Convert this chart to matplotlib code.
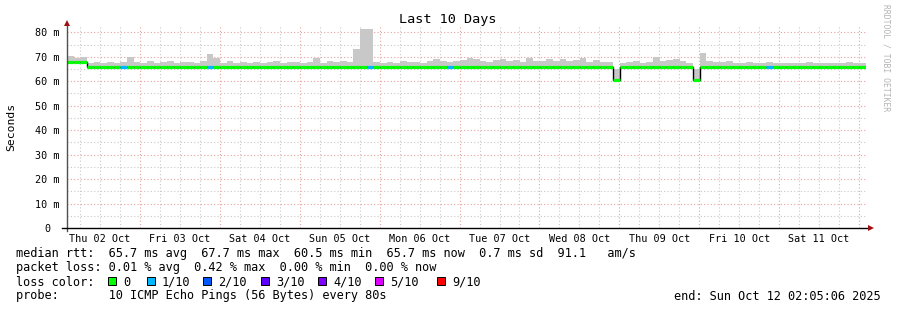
import numpy as np
import matplotlib
matplotlib.use('Agg')
import matplotlib.pyplot as plt
from matplotlib.lines import Line2D
from matplotlib.patches import Rectangle

W, H = 897, 310
MONO = 'DejaVu Sans Mono'

# time axis: hours counted from Thu 02 Oct 00:00, graph covers 10 days ending Sun Oct 12 02:05:06
start_hour = 2 + 5 / 60 + 6 / 3600
span_hours = 240
bin_hours = 2

# median rtt per 2h bin (ms)
median_rtt = [67.7, 67.7, 67.7] + [65.7] * 79 + [60.5] + [65.7] * 11 + [60.5] + [65.7] * 25

# top of the smoke (ms)
smoke_top = [70.2, 69.6, 69.8,
             67.4, 67.9, 67.6, 68.0, 67.5, 68.0, 69.9, 68.0,
             67.6, 68.1, 67.5, 67.9, 68.2, 67.4, 67.8, 68.0, 67.6, 68.4,
             71.2, 69.5,
             67.6, 68.2, 67.4, 67.9, 67.5, 68.0, 67.6, 67.8, 68.3, 67.5, 67.9,
             67.8, 67.5, 68.0, 69.4, 67.6, 68.1, 67.7, 68.3, 68.0,
             73.2, 81.5, 81.5, 67.8,
             67.4, 67.9, 67.6, 68.2, 67.8, 68.0, 67.5, 68.3, 69.2, 68.4, 68.0,
             68.2, 68.6, 69.6, 69.0, 68.3, 68.0, 68.6,
             69.3, 68.2, 68.8, 68.0, 69.5, 68.4, 68.1, 68.9, 68.3, 69.0, 68.2, 68.7, 69.4, 68.0, 68.5, 67.9,
             67.8, 65.0, 67.6,
             67.9, 68.3, 67.6, 68.0, 70.0, 68.2, 68.6, 69.3, 68.4, 67.6,
             65.0, 71.6, 68.3,
             67.9, 68.0, 68.4, 67.6, 67.5, 67.9, 67.3, 67.6, 67.8, 67.5,
             67.4, 67.6, 67.3, 67.5, 67.8, 67.4, 67.3, 67.6, 67.5, 67.4, 67.7, 67.5, 67.4]

# packet loss per bin, in tenths
loss_tenths = [0] * 120
for i in (8, 21, 45, 57, 105):
    loss_tenths[i] = 1

day_labels = ['Thu 02 Oct', 'Fri 03 Oct', 'Sat 04 Oct', 'Sun 05 Oct', 'Mon 06 Oct',
              'Tue 07 Oct', 'Wed 08 Oct', 'Thu 09 Oct', 'Fri 10 Oct', 'Sat 11 Oct']
y_values = [0, 10, 20, 30, 40, 50, 60, 70, 80]
y_labels = ['0', '10 m', '20 m', '30 m', '40 m', '50 m', '60 m', '70 m', '80 m']

loss_names = ['0', '1/10', '2/10', '3/10', '4/10', '5/10', '9/10']
loss_levels = [0, 1, 2, 3, 4, 5, 9]
loss_colors = ['#00ff00', '#00b8ff', '#0059ff', '#5e00ff', '#7e00ff', '#dd00ff', '#ff0000']

stats_line = 'median rtt:  65.7 ms avg  67.7 ms max  60.5 ms min  65.7 ms now  0.7 ms sd  91.1   am/s'
loss_line = 'packet loss: 0.01 % avg  0.42 % max  0.00 % min  0.00 % now'
probe_line = 'probe:       10 ICMP Echo Pings (56 Bytes) every 80s'
end_line = 'end: Sun Oct 12 02:05:06 2025'


def fx(px):
    return px / W


def fy(py):
    return 1 - py / H


fig = plt.figure(figsize=(W / 100, H / 100), dpi=100)
fig.patch.set_facecolor('white')

ax = fig.add_axes([fx(67), fy(228), (866 - 67) / W, (228 - 25) / H])
ax.set_xlim(start_hour, start_hour + span_hours)
ax.set_ylim(0, 83)
for s in ax.spines.values():
    s.set_visible(False)

# grid
minor_c = '#c8c8c8'
major_c = '#e8a0a0'
for h in range(6, 246, 6):
    if start_hour < h < start_hour + span_hours:
        ax.axvline(h, color=major_c if h % 24 == 0 else minor_c, lw=0.8,
                   ls=(0, (1, 2)), zorder=0.5)
for v in range(5, 85, 5):
    ax.axhline(v, color=major_c if v % 10 == 0 else minor_c, lw=0.8,
               ls=(0, (1, 2)), zorder=0.5)

# data
med = np.array(median_rtt)
top = np.array(smoke_top)
edges = start_hour + bin_hours * np.arange(len(med) + 1)
ax.fill_between(edges, np.append(med, med[-1]), np.append(top, top[-1]),
                step='post', color='#c8c8c8', lw=0, zorder=1)
ax.stairs(med, edges, baseline=None, color='black', lw=1.0, zorder=2)
color_of = dict(zip(loss_levels, loss_colors))
ax.hlines(med, edges[:-1], edges[1:], colors=[color_of[l] for l in loss_tenths],
          lw=2.3, zorder=3, capstyle='butt')

# ticks
ax.set_xticks([12 + 24 * i for i in range(len(day_labels))])
ax.set_xticklabels(day_labels, fontsize=7.3, family=MONO)
ax.tick_params(axis='x', length=0, pad=4.5)
ax.set_yticks(y_values)
ax.set_yticklabels(y_labels, fontsize=7.3, family=MONO)
ax.tick_params(axis='y', length=0, pad=14)
for lab in ax.get_yticklabels():
    lab.set_horizontalalignment('center')

# axes lines with arrows
fig.add_artist(Line2D([fx(67), fx(67)], [fy(231), fy(24)], color='#505050', lw=1.0))
fig.add_artist(Line2D([fx(62), fx(870)], [fy(228), fy(228)], color='black', lw=1.0))
fig.add_artist(Line2D([fx(67)], [fy(23)], marker='^', ms=4, color='#a01010', mew=0))
fig.add_artist(Line2D([fx(871)], [fy(228)], marker='>', ms=4, color='#a01010', mew=0))

# titles
fig.text(fx(448), fy(23), 'Last 10 Days', ha='center', va='baseline', fontsize=9.7, family=MONO)
fig.text(fx(11), fy(127), 'Seconds', rotation=90, ha='center', va='center', fontsize=8.2, family=MONO)
fig.text(fx(886), fy(4), 'RRDTOOL / TOBI OETIKER', rotation=-90, ha='center', va='top',
         fontsize=5.8, family=MONO, color='#b4b4b4')

# legend block
fig.text(fx(16), fy(257.5), stats_line, ha='left', va='baseline', fontsize=8.6, family=MONO)
fig.text(fx(16), fy(271.5), loss_line, ha='left', va='baseline', fontsize=8.6, family=MONO)
fig.text(fx(16), fy(285.5), 'loss color:', ha='left', va='baseline', fontsize=8.6, family=MONO)
swatch_px = [108, 147, 203, 261, 318, 375, 437]
for px, name, col in zip(swatch_px, loss_names, loss_colors):
    fig.add_artist(Rectangle((fx(px), fy(285)), 8 / W, 8 / H, transform=fig.transFigure,
                             facecolor=col, edgecolor='black', lw=0.7))
    fig.text(fx(px + 15), fy(285.5), name, ha='left', va='baseline', fontsize=8.6, family=MONO)
fig.text(fx(16), fy(299.5), probe_line, ha='left', va='baseline', fontsize=8.6, family=MONO)
fig.text(fx(881), fy(299.5), end_line, ha='right', va='baseline', fontsize=8.6, family=MONO)

fig.savefig('out.png', dpi=100)
